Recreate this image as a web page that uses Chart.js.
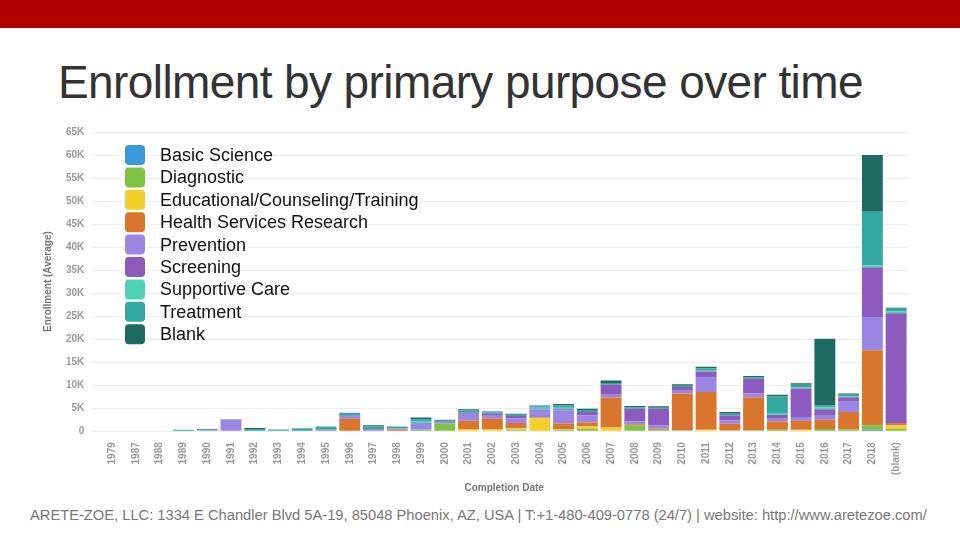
<!DOCTYPE html>
<html><head><meta charset="utf-8">
<script src="https://cdn.jsdelivr.net/npm/chart.js@4"></script>
<style>
body{margin:0;width:960px;height:540px;background:#fff;position:relative;overflow:hidden;font-family:"Liberation Sans",Arial,sans-serif}
#bar{position:absolute;left:0;top:0;width:960px;height:28px;background:#b00000}
#title{position:absolute;left:58px;top:55px;font-size:46px;color:#333;letter-spacing:-0.6px}
#foot{position:absolute;left:30px;top:507px;font-size:14.7px;color:#777}
#wrap{position:absolute;left:30px;top:118px;width:890px;height:380px}
</style></head><body>
<div id="bar"></div>
<div id="title">Enrollment by primary purpose over time</div>
<div id="wrap"><canvas id="graph_canvas"></canvas></div>
<div id="foot">ARETE-ZOE, LLC: 1334 E Chandler Blvd 5A-19, 85048 Phoenix, AZ, USA | T:+1-480-409-0778 (24/7) | website: http://www.aretezoe.com/</div>
<script>
const years = ['1979','1987','1988','1989','1990','1991','1992','1993','1994','1995','1996','1997','1998','1999','2000','2001','2002','2003','2004','2005','2006','2007','2008','2009','2010','2011','2012','2013','2014','2015','2016','2017','2018','(blank)'];
const purposes = ['Basic Science','Diagnostic','Educational/Counseling/Training','Health Services Research','Prevention','Screening','Supportive Care','Treatment','Blank'];
const colors = ['#3a9ad9','#7dc242','#f4ce2c','#d9752d','#9b86e6','#8c5bbd','#4fd3b5','#33a89e','#1f6b63'];

// values in thousands
const basicScience = [0,0,0,0,0,0,0,0,0,0,0,0,0,0,0,0,0,0,0,0,0,0,0,0,0,0,0,0,0,0,0,0,0.3,0];
const diagnostic   = [0,0,0,0,0,0,0,0,0,0,0,0,0,0.3,1.7,0,0,0.3,0,0.3,0.5,0,1.3,0.3,0.2,0,0.2,0.2,0.3,0,0.5,0.4,1.0,0.5];
const educational  = [0,0,0,0,0,0,0,0,0,0,0,0,0,0,0,0.5,0.5,0.3,2.8,0.2,0.6,0.8,0,0,0,0.3,0,0,0,0.3,0,0,0,0.8];
const healthServ   = [0,0,0,0,0,0,0,0,0,0,2.7,0,0.3,0,0,1.8,2.2,1.2,0.2,1.2,0.8,6.5,0.2,0.3,8.0,8.2,1.4,7.2,1.8,2.0,2.0,3.8,16.3,0.3];
const prevention   = [0,0,0,0,0.2,2.5,0,0,0,0.3,0.8,0.5,0.3,1.5,0.5,1.5,0.8,1.0,1.8,2.8,1.5,0.8,0.6,0.7,0.6,3.3,0.8,0.8,0.6,0.8,1.0,2.2,7.2,0];
const screening    = [0,0,0,0,0,0,0,0,0,0,0,0,0,0,0,0.2,0.3,0.5,0,0.3,0.8,2.0,2.8,3.6,0.8,1.2,1.0,3.2,0.8,6.2,1.3,1.0,10.8,24.0];
const supportive   = [0,0,0,0,0,0,0,0,0,0,0,0,0,0.3,0,0,0,0,0.3,0.3,0,0,0,0,0,0.3,0,0,0.3,0.2,0.4,0.2,0.4,0.4];
const treatment    = [0,0,0,0.3,0.3,0.1,0.5,0.4,0.5,0.7,0.5,0.5,0.4,0.5,0.3,0.5,0.3,0.3,0.3,0.5,0.4,0.4,0.3,0.2,0.3,0.4,0.4,0.3,3.8,0.6,0.4,0.3,11.7,0.6];
const blank        = [0,0,0,0,0,0,0.2,0,0.1,0,0,0.3,0,0.4,0,0.3,0.2,0.2,0.2,0.3,0.3,0.5,0.3,0.3,0.3,0.3,0.4,0.3,0.3,0.3,14.5,0.3,12.3,0.2];
const series = [basicScience,diagnostic,educational,healthServ,prevention,screening,supportive,treatment,blank];

const bigLegend = {
  id:'bigLegend',
  afterDraw(chart){
    const c = chart.ctx;
    c.save();
    c.font = '18px "Liberation Sans", Arial, sans-serif';
    c.textBaseline = 'middle';
    chart.data.datasets.forEach((ds,i)=>{
      const y = 37 + i*22.4;
      c.fillStyle = ds.backgroundColor;
      c.beginPath();
      c.roundRect(95, y-10, 20, 20, 4);
      c.fill();
      c.fillStyle = '#111';
      c.fillText(ds.label, 130, y+1);
    });
    c.restore();
  }
};

const tickFont = {size:10, weight:'bold', family:'"Liberation Sans", Arial'};
new Chart(document.getElementById('graph_canvas'), {
  type:'bar',
  data:{
    labels: years,
    datasets: purposes.map((p,i)=>({label:p, data:series[i], backgroundColor:colors[i], barPercentage:0.88, categoryPercentage:1}))
  },
  options:{
    responsive:true, maintainAspectRatio:false, animation:false,
    layout:{padding:{top:13,right:12,left:8}},
    plugins:{legend:{display:false}, tooltip:{enabled:false}},
    scales:{
      x:{stacked:true, grid:{display:false}, border:{display:false},
         ticks:{color:'#999', font:tickFont, minRotation:90, maxRotation:90, autoSkip:false},
         title:{display:true, text:'Completion Date', color:'#777', font:tickFont}},
      y:{stacked:true, min:0, max:65, grid:{color:'#eee'}, border:{display:false},
         ticks:{stepSize:5, color:'#999', font:tickFont, padding:8, callback:v=> v===0 ? '0' : v+'K'},
         title:{display:true, text:'Enrollment (Average)', color:'#777', font:tickFont}}
    }
  },
  plugins:[bigLegend]
});
</script>
</body></html>
